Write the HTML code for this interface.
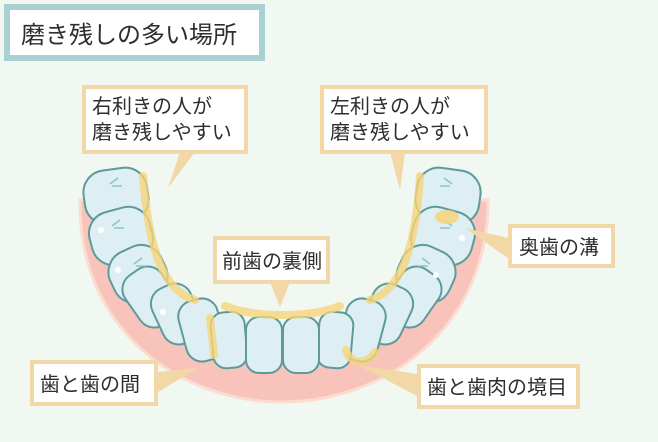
<!DOCTYPE html>
<html><head><meta charset="utf-8"><style>
html,body{margin:0;padding:0;background:#f1f7f1;}
svg{display:block}
text{font-family:"Liberation Sans","Noto Sans CJK JP",sans-serif;fill:#2e2e2e;}
</style></head><body>
<svg width="658" height="442" viewBox="0 0 658 442" xmlns="http://www.w3.org/2000/svg">
<rect width="658" height="442" fill="#f1f7f1"/>
<rect x="7" y="7" width="255" height="51" fill="#fff" stroke="#a9d0d3" stroke-width="6"/>
<text x="21" y="43" font-size="24">磨き残しの多い場所</text>

<path d="M80,200 C78,330 180,402 282,402 C384,402 488,330 488,200 L470,200 C462,300 380,362 282,362 C184,362 104,300 96,200 Z" fill="#f7c3ba" stroke="#fbdccf" stroke-width="3"/>

<g stroke="#5e9a9a" stroke-width="2" fill="#deeff3">
<rect x="-32" y="-27" width="64" height="54" rx="22" transform="translate(116,196) rotate(-8)"/>
<rect x="-31" y="-27" width="62" height="54" rx="22" transform="translate(121,236) rotate(-15)"/>
<rect x="-28" y="-27" width="56" height="54" rx="22" transform="translate(138,274) rotate(-25)"/>
<rect x="-22" y="-30" width="44" height="60" rx="17" transform="translate(151,297) rotate(-35)"/>
<rect x="-21" y="-30" width="42" height="60" rx="17" transform="translate(177,314) rotate(-25)"/>
<rect x="-20" y="-31" width="40" height="62" rx="16" transform="translate(202,330) rotate(-15)"/>
<rect x="-17" y="-28" width="34" height="56" rx="13" transform="translate(229,340) rotate(-5)"/>
<rect x="-18" y="-28" width="36" height="56" rx="13" transform="translate(264,345)"/>
<rect x="-32" y="-27" width="64" height="54" rx="22" transform="translate(448,196) rotate(8)"/>
<rect x="-31" y="-27" width="62" height="54" rx="22" transform="translate(443,236) rotate(15)"/>
<rect x="-28" y="-27" width="56" height="54" rx="22" transform="translate(426,274) rotate(25)"/>
<rect x="-22" y="-30" width="44" height="60" rx="17" transform="translate(413,297) rotate(35)"/>
<rect x="-21" y="-30" width="42" height="60" rx="17" transform="translate(387,314) rotate(25)"/>
<rect x="-20" y="-31" width="40" height="62" rx="16" transform="translate(362,330) rotate(15)"/>
<rect x="-17" y="-28" width="34" height="56" rx="13" transform="translate(335,340) rotate(5)"/>
<rect x="-18" y="-28" width="36" height="56" rx="13" transform="translate(301,345)"/>
</g>
<g stroke="#8cc3c6" stroke-width="1.5" fill="none">
<path d="M110,184 l8,-6 M112,186 l10,0 M112,226 l8,-6 M114,228 l10,0 M134,264 l8,-6 M136,266 l10,0"/>
<path d="M452,184 l-8,-6 M450,186 l-10,0 M452,226 l-8,-6 M450,228 l-10,0 M430,264 l-8,-6 M428,266 l-10,0"/>
</g>
<g fill="#fff"><circle cx="101" cy="230" r="3"/><circle cx="118" cy="270" r="3"/><circle cx="163" cy="312" r="3"/><circle cx="436" cy="275" r="3"/><circle cx="462" cy="238" r="3"/></g>

<g fill="none" stroke="#f6d47a" stroke-opacity="0.8" stroke-linecap="round" stroke-width="8">
<path d="M143,176 C148,240 160,290 195,300"/>
<path d="M420,176 C416,240 404,290 370,300"/>
<path d="M225,306 C255,318 310,318 340,306"/>
<path d="M210,318 L214,355"/>
<path d="M346,350 C350,365 368,365 375,352"/>
</g>
<ellipse cx="447" cy="217" rx="12" ry="7" fill="#f6d47a" opacity="0.85"/>

<g fill="#f1d8a6">
<polygon points="180,152 195,152 168,188"/>
<polygon points="390,152 405,152 400,190"/>
<polygon points="270,282 290,282 280,307"/>
<polygon points="508,238 508,258 465,228"/>
<polygon points="158,372 158,392 198,368"/>
<polygon points="417,374 417,396 358,365"/>
</g>
<g fill="#fff" stroke="#f1d8a6" stroke-width="4">
<rect x="84" y="87" width="162" height="65"/>
<rect x="322" y="87" width="164" height="65"/>
<rect x="215" y="238" width="113" height="44"/>
<rect x="510" y="226" width="103" height="40"/>
<rect x="32" y="362" width="124" height="42"/>
<rect x="419" y="366" width="159" height="41"/>
</g>
<g font-size="20">
<text x="92" y="113">右利きの人が</text>
<text x="92" y="139">磨き残しやすい</text>
<text x="330" y="113">左利きの人が</text>
<text x="330" y="139">磨き残しやすい</text>
<text x="222" y="268">前歯の裏側</text>
<text x="519" y="254">奥歯の溝</text>
<text x="40" y="391">歯と歯の間</text>
<text x="427" y="394">歯と歯肉の境目</text>
</g>
</svg>
</body></html>
